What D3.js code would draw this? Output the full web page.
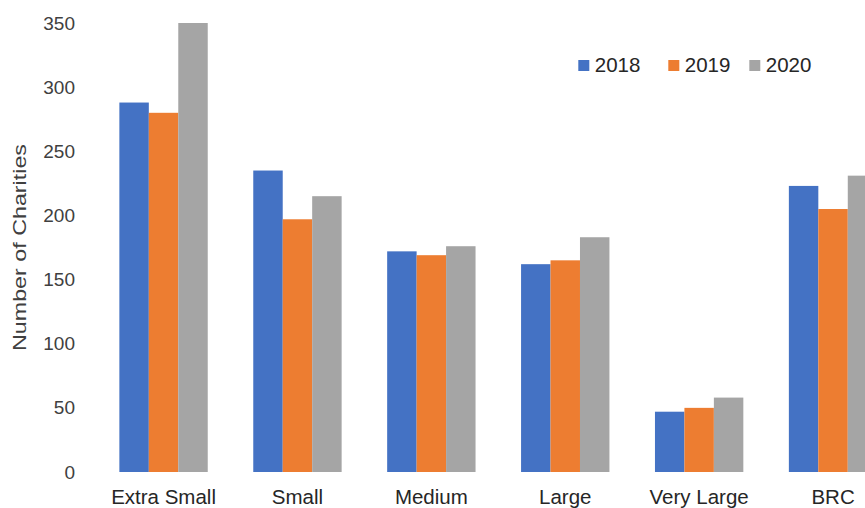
<!DOCTYPE html>
<html>
<head>
<meta charset="utf-8">
<script src="https://cdn.jsdelivr.net/npm/d3@7"></script>
<style>
  html, body { margin: 0; padding: 0; background: #fff; }
  svg { display: block; font-family: "Liberation Sans", Arial, sans-serif; }
</style>
</head>
<body>
<svg id="chart" width="865" height="508"></svg>
<script>
// Charity counts by size band, per year
const categories = ["Extra Small", "Small", "Medium", "Large", "Very Large", "BRC"];
const years = ["2018", "2019", "2020"];
const values2018 = [288, 235, 172, 162, 47, 223];
const values2019 = [280, 197, 169, 165, 50, 205];
const values2020 = [350, 215, 176, 183, 58, 231];
const yTicks = [0, 50, 100, 150, 200, 250, 300, 350];
const colors = ["#4472C4", "#ED7D31", "#A5A5A5"];

const seriesValues = [values2018, values2019, values2020];
const rows = categories.map((c, i) => ({
  category: c,
  values: years.map((yr, k) => ({ year: yr, value: seriesValues[k][i], color: colors[k] }))
}));

const svg = d3.select("#chart");

// plot region (extends past the right edge, so the last group is cut off)
const left = 96.6, step = 133.9;
const x = d3.scaleBand()
  .domain(categories)
  .range([left, left + step * categories.length])
  .paddingInner(0.34)
  .paddingOuter(0.17);

const xInner = d3.scaleBand()
  .domain(years)
  .range([0, x.bandwidth()]);

const y = d3.scaleLinear().domain([0, 350]).range([472, 23]);

// bars
const groups = svg.append("g").selectAll("g")
  .data(rows)
  .join("g")
  .attr("transform", d => `translate(${x(d.category)},0)`);

groups.selectAll("rect")
  .data(d => d.values)
  .join("rect")
  .attr("x", d => xInner(d.year))
  .attr("width", xInner.bandwidth())
  .attr("y", d => y(d.value))
  .attr("height", d => y(0) - y(d.value))
  .attr("fill", d => d.color);

// y axis: labels only
const yAxis = d3.axisLeft(y).tickValues(yTicks).tickSize(0).tickPadding(0);
svg.append("g")
  .attr("transform", "translate(75,0)")
  .call(yAxis)
  .call(g => g.select(".domain").remove())
  .call(g => g.selectAll("text")
    .attr("fill", "#404040")
    .attr("font-size", "19px")
    .attr("font-family", "Liberation Sans, Arial, sans-serif"));

// x axis: category labels only
const xAxis = d3.axisBottom(x).tickSize(0).tickPadding(0);
svg.append("g")
  .attr("transform", "translate(0,498)")
  .call(xAxis)
  .call(g => g.select(".domain").remove())
  .call(g => g.selectAll("text")
    .attr("dy", "0.3em")
    .attr("fill", "#262626")
    .attr("font-size", "20.5px")
    .attr("font-family", "Liberation Sans, Arial, sans-serif"));

// y axis title
svg.append("text")
  .attr("transform", "translate(26,247.5) rotate(-90)")
  .attr("text-anchor", "middle")
  .attr("font-size", "18px")
  .attr("fill", "#404040")
  .attr("textLength", 207)
  .attr("lengthAdjust", "spacingAndGlyphs")
  .text("Number of Charities");

// legend
const legendX = [578.3, 668.3, 749.3];
const legend = svg.append("g").selectAll("g")
  .data(years)
  .join("g")
  .attr("transform", (d, i) => `translate(${legendX[i]},60)`);

legend.append("rect")
  .attr("width", 11)
  .attr("height", 11)
  .attr("fill", (d, i) => colors[i]);

legend.append("text")
  .attr("x", 16.5)
  .attr("y", 12)
  .attr("font-size", "20.5px")
  .attr("fill", "#262626")
  .text(d => d);
</script>
</body>
</html>
